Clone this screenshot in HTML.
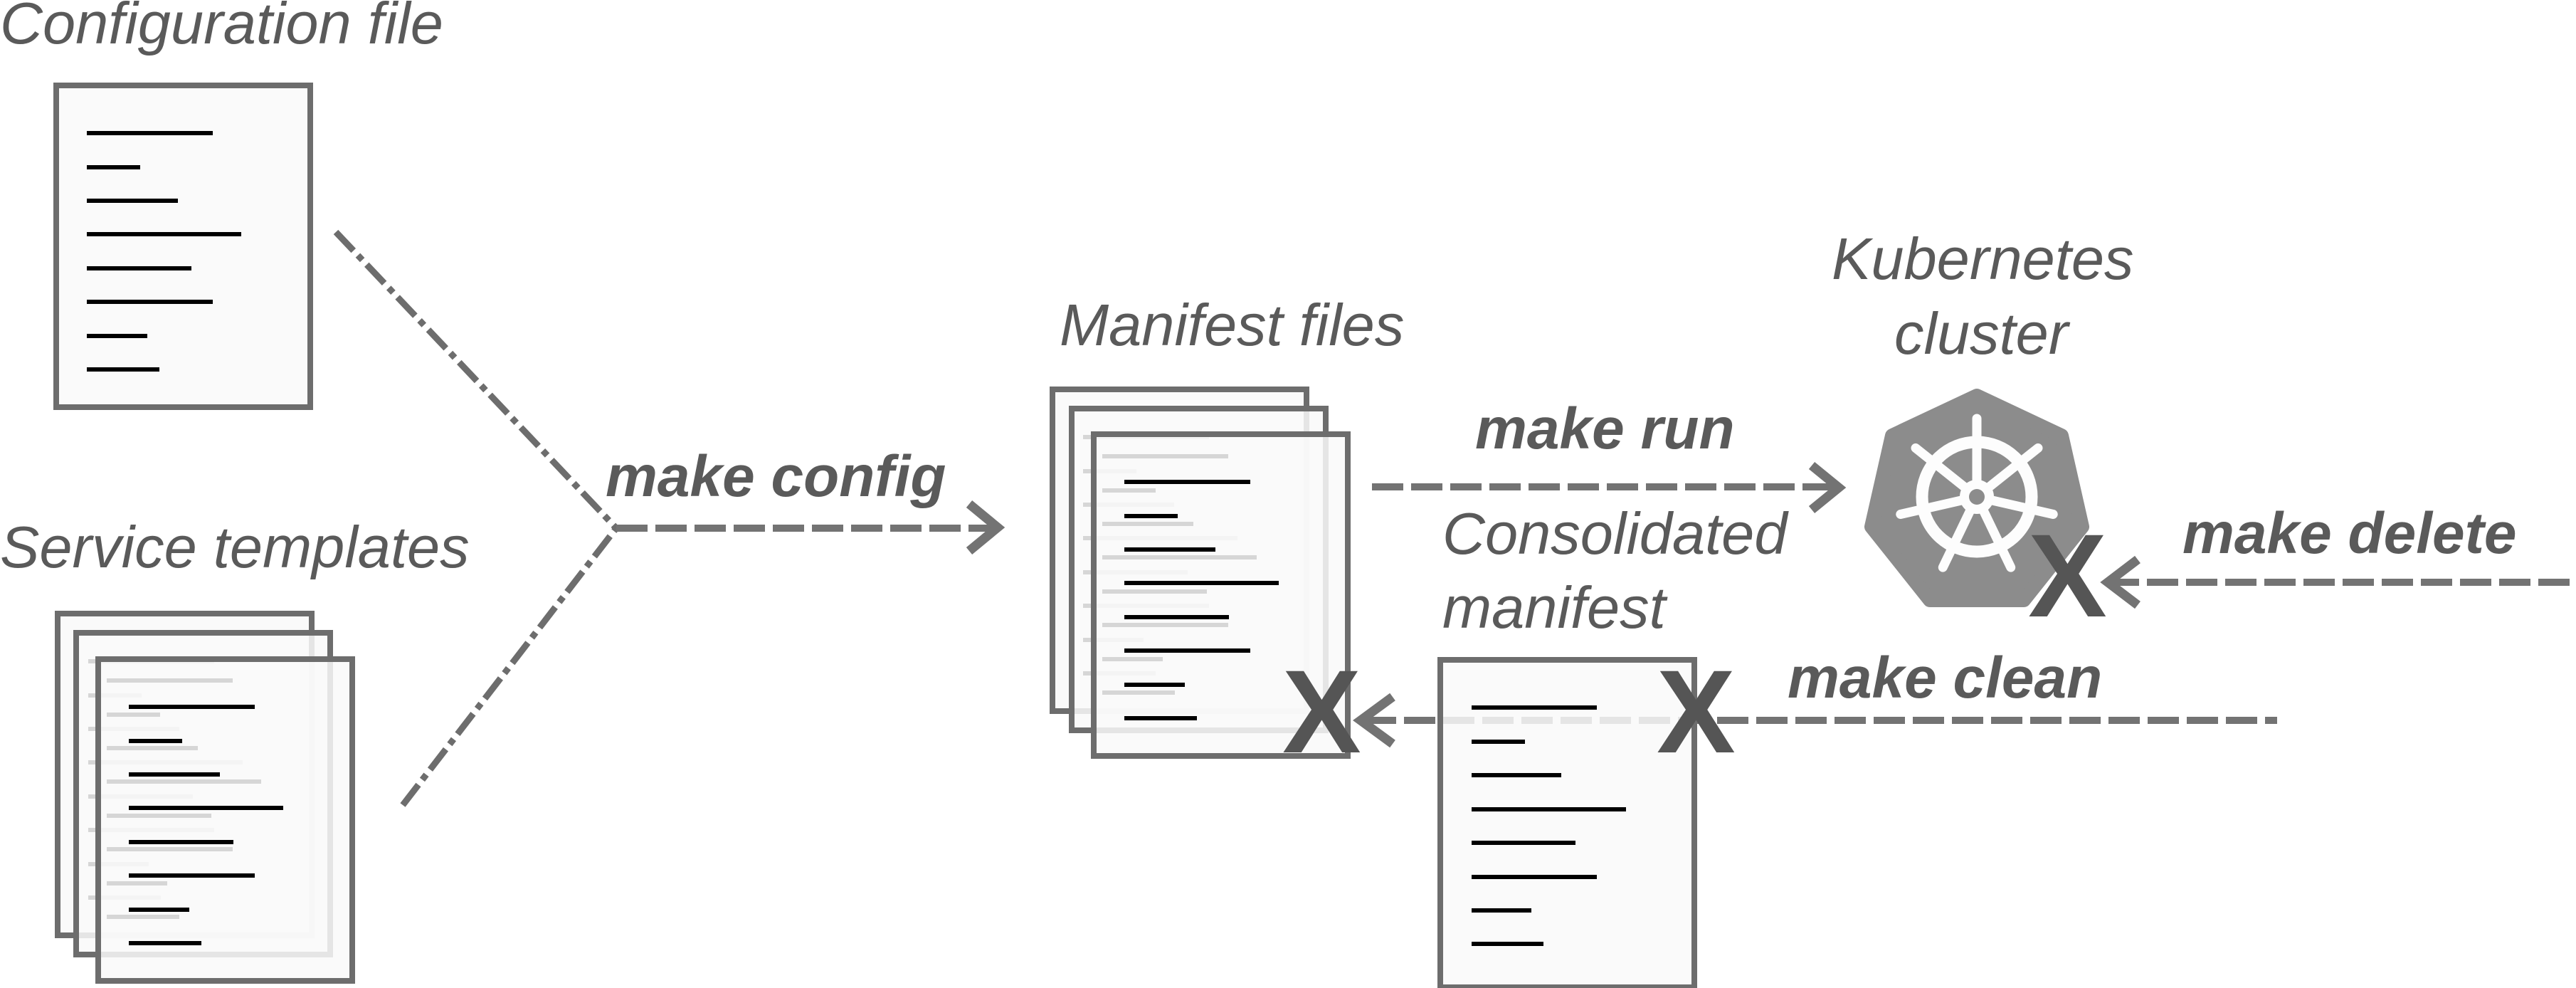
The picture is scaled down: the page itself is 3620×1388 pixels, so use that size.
<!DOCTYPE html>
<html><head><meta charset="utf-8"><style>
html,body{margin:0;padding:0;background:#fff}
svg{display:block}
text{font-family:"Liberation Sans",Arial,sans-serif;fill:#5a5a5a}
.it{font-style:italic;font-size:83px}
.b{font-style:italic;font-weight:bold;font-size:82px}
.x{font-weight:bold;font-size:166px;fill:#555}
</style></head><body>
<svg width="3620" height="1388" viewBox="0 0 3620 1388" xmlns="http://www.w3.org/2000/svg">
<defs>
<g id="doc">
<rect x="4" y="4" width="357" height="452" fill="#f9f9f9" fill-opacity="0.86" stroke="#6d6d6d" stroke-width="8"/>
<g stroke="#000" stroke-width="6">
<line x1="47" y1="71" x2="224" y2="71"/>
<line x1="47" y1="119" x2="122" y2="119"/>
<line x1="47" y1="166" x2="175" y2="166"/>
<line x1="47" y1="213" x2="264" y2="213"/>
<line x1="47" y1="261" x2="194" y2="261"/>
<line x1="47" y1="308" x2="224" y2="308"/>
<line x1="47" y1="356" x2="132" y2="356"/>
<line x1="47" y1="403" x2="149" y2="403"/>
</g>
</g>
</defs>

<text class="it" x="0" y="61">Configuration file</text>
<text class="it" x="0" y="797">Service templates</text>
<text class="it" x="1489" y="485">Manifest files</text>
<text class="it" x="2574" y="392">Kubernetes</text>
<text class="it" x="2662" y="497">cluster</text>
<text class="it" x="2027" y="778">Consolidated</text>
<text class="it" x="2027" y="882">manifest</text>
<text class="b" x="851" y="697">make config</text>
<text class="b" x="2073" y="630">make run</text>
<text class="b" x="3067" y="777">make delete</text>
<text class="b" x="2512" y="980">make clean</text>

<use href="#doc" x="75" y="116"/>
<use href="#doc" x="77" y="858"/>
<use href="#doc" x="103" y="885"/>
<use href="#doc" x="134" y="922"/>

<g stroke="#6d6d6d" stroke-width="9" fill="none" stroke-dasharray="36,9,9,9">
<line x1="472" y1="326" x2="866" y2="742"/>
<line x1="566" y1="1131" x2="866" y2="742"/>
</g>
<line x1="866" y1="742" x2="1400" y2="742" stroke="#737373" stroke-width="10" stroke-dasharray="44,11"/>
<polyline points="1362,708 1402,741 1362,774" fill="none" stroke="#737373" stroke-width="13"/>

<use href="#doc" x="1475" y="543"/>
<use href="#doc" x="1502" y="570"/>
<use href="#doc" x="1533" y="606"/>

<line x1="1928" y1="684" x2="2585" y2="684" stroke="#737373" stroke-width="10" stroke-dasharray="44,11"/>
<polyline points="2546,654 2584,685 2546,716" fill="none" stroke="#737373" stroke-width="13"/>

<line x1="1918" y1="1012" x2="3200" y2="1012" stroke="#737373" stroke-width="10" stroke-dasharray="44,11"/>
<polyline points="1957,979 1912,1012 1957,1045" fill="none" stroke="#737373" stroke-width="13"/>

<g transform="translate(2020,923)">
<rect x="4" y="4" width="357" height="460" fill="#f9f9f9" fill-opacity="0.85" stroke="#6d6d6d" stroke-width="8"/>
<g stroke="#000" stroke-width="6">
<line x1="48" y1="71" x2="224" y2="71"/>
<line x1="48" y1="119" x2="123" y2="119"/>
<line x1="48" y1="166" x2="174" y2="166"/>
<line x1="48" y1="214" x2="265" y2="214"/>
<line x1="48" y1="261" x2="194" y2="261"/>
<line x1="48" y1="309" x2="224" y2="309"/>
<line x1="48" y1="356" x2="132" y2="356"/>
<line x1="48" y1="403" x2="149" y2="403"/>
</g>
</g>

<polygon points="2778,556 2897,612 2926,740 2844,843 2712,843 2630,740 2659,612" fill="#8c8c8c" stroke="#8c8c8c" stroke-width="20" stroke-linejoin="round"/>
<g transform="translate(2778,698)" fill="none" stroke="#fdfdfd">
<circle r="77" stroke-width="17"/>
<g stroke-width="13" stroke-linecap="round">
<line x1="0" y1="-14" x2="0" y2="-110"/>
<line x1="0" y1="-14" x2="0" y2="-110" transform="rotate(51.43)"/>
<line x1="0" y1="-14" x2="0" y2="-110" transform="rotate(102.86)"/>
<line x1="0" y1="-14" x2="0" y2="-110" transform="rotate(154.29)"/>
<line x1="0" y1="-14" x2="0" y2="-110" transform="rotate(205.71)"/>
<line x1="0" y1="-14" x2="0" y2="-110" transform="rotate(257.14)"/>
<line x1="0" y1="-14" x2="0" y2="-110" transform="rotate(308.57)"/>
</g>
<circle r="18" stroke-width="12"/>
</g>
<circle cx="2778" cy="698" r="11" fill="#8c8c8c"/>

<line x1="2962" y1="818" x2="3620" y2="818" stroke="#737373" stroke-width="10" stroke-dasharray="44,11"/>
<polyline points="3004,786 2962,818 3004,850" fill="none" stroke="#737373" stroke-width="13"/>

<text class="x" x="1802" y="1057">X</text>
<text class="x" x="2328" y="1057">X</text>
<text class="x" x="2850" y="866">X</text>
</svg>
</body></html>
